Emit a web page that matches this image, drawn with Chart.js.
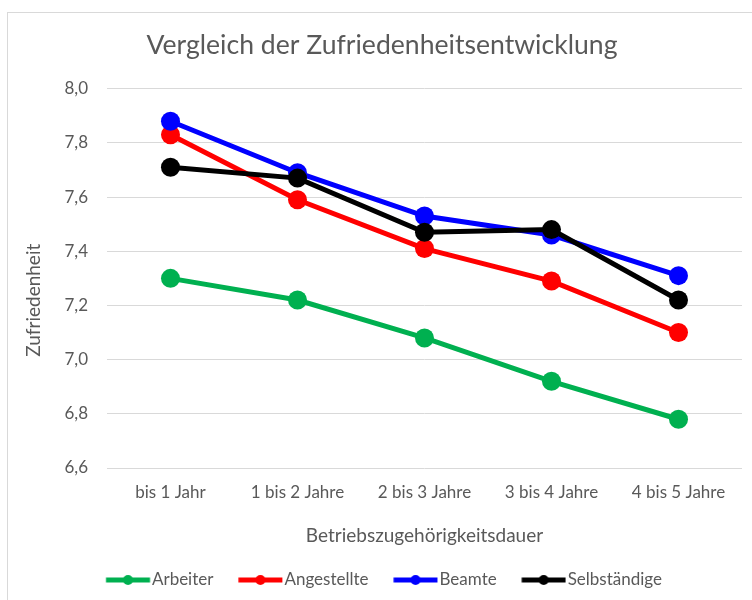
<!DOCTYPE html>
<html>
<head>
<meta charset="utf-8">
<script src="https://cdn.jsdelivr.net/npm/chart.js@4"></script>
<style>
  html, body { margin: 0; padding: 0; background: #fff; overflow: hidden; }
  #wrap { position: relative; width: 752px; height: 600px; }
  #frame { position: absolute; left: 7px; top: 12px; width: 800px; height: 700px;
           border-left: 1px solid #d9d9d9; border-top: 1px solid #d9d9d9; }
  canvas { position: absolute; left: 0; top: 0; }
</style>
</head>
<body>
<div id="wrap">
  <div id="frame"></div>
  <canvas id="c" width="752" height="600"></canvas>
</div>
<script>
const categories = ['bis 1 Jahr', '1 bis 2 Jahre', '2 bis 3 Jahre', '3 bis 4 Jahre', '4 bis 5 Jahre'];
const seriesNames = ['Arbeiter', 'Angestellte', 'Beamte', 'Selbständige'];
const arbeiter = [7.30, 7.22, 7.08, 6.92, 6.78];
const angestellte = [7.83, 7.59, 7.41, 7.29, 7.10];
const beamte = [7.88, 7.69, 7.53, 7.46, 7.31];
const selbstaendige = [7.71, 7.67, 7.47, 7.48, 7.22];
const yMin = 6.6, yMax = 8.0, yStep = 0.2;

const colors = ['#00B050', '#FF0000', '#0000FF', '#000000'];
const seriesValues = [arbeiter, angestellte, beamte, selbstaendige];
const FONT = 'Lato';
const TXT = '#595959';

function makeSwatch(color) {
  const c = document.createElement('canvas');
  c.width = 56; c.height = 14;
  const g = c.getContext('2d');
  g.strokeStyle = color; g.lineWidth = 5; g.lineCap = 'butt';
  g.beginPath(); g.moveTo(11.25, 7); g.lineTo(55.25, 7); g.stroke();
  g.fillStyle = color;
  g.beginPath(); g.arc(33.25, 7, 5, 0, Math.PI * 2); g.fill();
  return c;
}

const datasets = seriesNames.map((name, i) => ({
  label: name,
  data: seriesValues[i],
  borderColor: colors[i],
  backgroundColor: colors[i],
  borderWidth: 5,
  pointRadius: 9.5,
  pointBorderWidth: 0,
  pointBackgroundColor: colors[i],
  tension: 0,
  fill: false,
  order: seriesNames.length - i
}));

new Chart(document.getElementById('c'), {
  type: 'line',
  data: { labels: categories, datasets },
  options: {
    responsive: false,
    animation: false,
    devicePixelRatio: 1,
    layout: { padding: { left: 22, right: 10, top: 10, bottom: 1.5 } },
    plugins: {
      tooltip: { enabled: false },
      title: {
        display: true,
        text: 'Vergleich der Zufriedenheitsentwicklung',
        color: TXT,
        font: { family: FONT, size: 26.6, weight: 'normal' },
        padding: { top: 19.4, bottom: 27.4 }
      },
      legend: {
        position: 'bottom',
        labels: {
          usePointStyle: true,
          pointStyleWidth: 41.5,
          padding: 21,
          color: TXT,
          font: { family: FONT, size: 17 },
          sort: (a, b) => a.datasetIndex - b.datasetIndex,
          generateLabels(chart) {
            const items = Chart.defaults.plugins.legend.labels.generateLabels(chart);
            items.forEach(it => { it.pointStyle = makeSwatch(colors[it.datasetIndex]); });
            return items;
          }
        }
      }
    },
    scales: {
      x: {
        offset: true,
        grid: { display: false, drawTicks: false },
        border: { display: false },
        ticks: { color: TXT, font: { family: FONT, size: 17 }, padding: 14, maxRotation: 0 },
        title: {
          display: true, text: 'Betriebszugehörigkeitsdauer', color: TXT,
          font: { family: FONT, size: 19 }, padding: { top: 22.2, bottom: 3.1 }
        },
        afterFit(scale) { scale.height = 82.5; }
      },
      y: {
        min: yMin, max: yMax,
        grid: { color: '#d9d9d9', lineWidth: 1, drawTicks: false },
        border: { display: false },
        ticks: {
          stepSize: yStep, color: TXT, font: { family: FONT, size: 17 }, padding: 19,
          callback: v => Number(v).toFixed(1).replace('.', ',')
        },
        title: {
          display: true, text: 'Zufriedenheit         ', color: TXT,
          font: { family: FONT, size: 19 }, padding: { top: 0, bottom: 19.6 }
        },
        afterFit(scale) { scale.width = 85; }
      }
    }
  }
});
</script>
</body>
</html>
